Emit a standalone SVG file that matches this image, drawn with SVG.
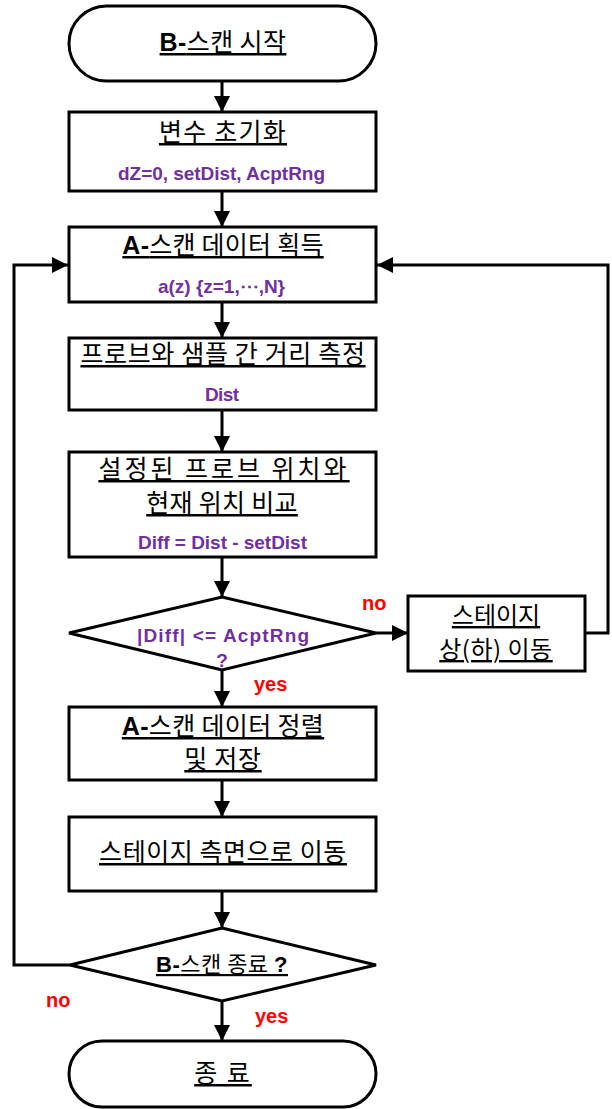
<svg xmlns="http://www.w3.org/2000/svg" width="612" height="1109" viewBox="0 0 612 1109">
<style>
.shape{fill:#fff;stroke:#000;stroke-width:3}
.conn{fill:none;stroke:#000;stroke-width:3}
.ko{font-family:"Noto Sans CJK KR","Liberation Sans",sans-serif;font-size:25px;fill:#000;text-decoration:underline;text-anchor:middle}
.b{font-family:"Liberation Sans",Arial,sans-serif;font-weight:bold}
.pu{font-family:"Liberation Sans",Arial,sans-serif;font-weight:bold;font-size:19px;fill:#7030A0}
.red{font-family:"Liberation Sans",Arial,sans-serif;font-weight:bold;font-size:20px;fill:#FF0000}
</style>
<defs>
<marker id="ah" markerUnits="userSpaceOnUse" markerWidth="16" markerHeight="16" viewBox="0 0 16 16" refX="16" refY="8" orient="auto">
<path d="M0,0 L16,8 L0,16 Z" fill="#000"/>
</marker>
</defs>
<rect width="612" height="1109" fill="#fff"/>
<g id="connectors">
<line class="conn" x1="222" y1="81" x2="222" y2="112" marker-end="url(#ah)"/>
<line class="conn" x1="222" y1="191" x2="222" y2="227" marker-end="url(#ah)"/>
<line class="conn" x1="222" y1="302" x2="222" y2="338" marker-end="url(#ah)"/>
<line class="conn" x1="222" y1="410" x2="222" y2="452" marker-end="url(#ah)"/>
<line class="conn" x1="222" y1="557" x2="222" y2="597" marker-end="url(#ah)"/>
<line class="conn" x1="376" y1="633" x2="408" y2="633" marker-end="url(#ah)"/>
<polyline class="conn" points="585,633 608,633 608,265 377,265" marker-end="url(#ah)"/>
<line class="conn" x1="222" y1="670" x2="222" y2="707" marker-end="url(#ah)"/>
<line class="conn" x1="222" y1="780" x2="222" y2="817" marker-end="url(#ah)"/>
<line class="conn" x1="222" y1="891" x2="222" y2="928" marker-end="url(#ah)"/>
<line class="conn" x1="222" y1="1001" x2="222" y2="1041" marker-end="url(#ah)"/>
<polyline class="conn" points="70,965 14,965 14,265 68,265" marker-end="url(#ah)"/>
<text class="red" x="362" y="610">no</text>
<text class="red" x="254" y="691">yes</text>
<text class="red" x="46" y="1007">no</text>
<text class="red" x="255" y="1023">yes</text>
</g>
<g id="start">
<rect class="shape" x="69" y="6" width="307" height="75" rx="37.5"/>
<text class="ko" x="223" y="51" letter-spacing="0.4"><tspan class="b">B-</tspan>스캔 시작</text>
</g>
<g id="init">
<rect class="shape" x="69" y="112" width="307" height="79"/>
<text class="ko" x="223" y="141" letter-spacing="1.25">변수 초기화</text>
<text class="pu" x="118" y="180" textLength="207" lengthAdjust="spacing">dZ=0, setDist, AcptRng</text>
</g>
<g id="acquire">
<rect class="shape" x="69" y="227" width="307" height="75"/>
<text class="ko" x="223" y="254" letter-spacing="0.25"><tspan class="b">A-</tspan>스캔 데이터 획득</text>
<text class="pu" x="158" y="293" textLength="127" lengthAdjust="spacing">a(z) {z=1,⋯,N}</text>
</g>
<g id="measure">
<rect class="shape" x="69" y="338" width="307" height="72"/>
<text class="ko" x="223" y="363" letter-spacing="0.65">프로브와 샘플 간 거리 측정</text>
<text class="pu" x="205" y="401" textLength="34" lengthAdjust="spacing">Dist</text>
</g>
<g id="compare">
<rect class="shape" x="69" y="452" width="307" height="105"/>
<text class="ko" x="224" y="478" letter-spacing="3">설정된 프로브 위치와</text>
<text class="ko" x="222" y="512" letter-spacing="0.3">현재 위치 비교</text>
<text class="pu" x="138" y="549" textLength="169" lengthAdjust="spacing">Diff = Dist - setDist</text>
</g>
<g id="decision1">
<polygon class="shape" points="222,597 376,633 222,670 69,633"/>
<text class="pu" x="137" y="642" textLength="172" lengthAdjust="spacing">|Diff| &lt;= AcptRng</text>
<text class="pu" x="222" y="667" text-anchor="middle">?</text>
</g>
<g id="stage">
<rect class="shape" x="408" y="596" width="177" height="75"/>
<text class="ko" x="496" y="624" style="font-size:24px">스테이지</text>
<text class="ko" x="496" y="658" style="font-size:24px" letter-spacing="0.5">상(하) 이동</text>
</g>
<g id="sort">
<rect class="shape" x="69" y="707" width="307" height="73"/>
<text class="ko" x="223" y="735" letter-spacing="0.35"><tspan class="b">A-</tspan>스캔 데이터 정렬</text>
<text class="ko" x="223" y="768" letter-spacing="0.7">및 저장</text>
</g>
<g id="side">
<rect class="shape" x="69" y="817" width="307" height="74"/>
<text class="ko" x="223" y="861" letter-spacing="0.55">스테이지 측면으로 이동</text>
</g>
<g id="decision2">
<polygon class="shape" points="222,928 376,965 222,1001 70,965"/>
<text class="ko" x="222" y="972" style="font-size:22px" letter-spacing="0.5"><tspan class="b">B-</tspan>스캔 종료 <tspan class="b">?</tspan></text>
</g>
<g id="end">
<rect class="shape" x="69" y="1041" width="307" height="66" rx="33"/>
<text class="ko" x="223" y="1082" letter-spacing="2">종 료</text>
</g>
</svg>
